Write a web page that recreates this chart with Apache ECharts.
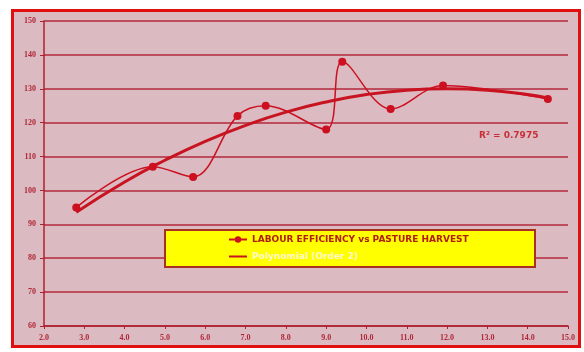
<!DOCTYPE html>
<html>
<head>
<meta charset="utf-8">
<script src="https://cdn.jsdelivr.net/npm/echarts@6/dist/echarts.min.js"></script>
<style>html,body{margin:0;padding:0;background:#fff;}#c{width:584px;height:352px;}</style>
</head>
<body>
<div id="c"></div>
<script>
// Observed data: labour efficiency vs pasture harvest
var harvestX = [2.8, 4.7, 5.7, 6.8, 7.5, 9.0, 9.4, 10.6, 11.9, 14.5];
var efficiency = [95, 107, 104, 122, 125, 118, 138, 124, 131, 127];
// Polynomial (order 2) trendline
var trendX = [2.8, 4, 5, 6, 7, 8, 9, 10, 11, 12, 13, 14, 14.5];
var trendY = [93.6, 102.5, 108.9, 114.5, 119.2, 123.1, 126.1, 128.3, 129.6, 130, 129.6, 128.3, 127.3];
var seriesNames = ['LABOUR EFFICIENCY vs PASTURE HARVEST', 'Polynomial (Order 2)'];
var r2Text = 'R\u00b2 = 0.7975';

var chart = echarts.init(document.getElementById('c'), null, {renderer: 'canvas'});
var lblStyle = {color: '#b02838', fontFamily: 'Liberation Serif', fontWeight: 'bold', fontSize: 8};
chart.setOption({
  animation: false,
  backgroundColor: '#ffffff',
  graphic: [
    {type: 'rect', z: -10, shape: {x: 12.5, y: 10.5, width: 567, height: 336},
     style: {fill: '#dbbac2', stroke: '#e01010', lineWidth: 3}},
    {type: 'rect', z: 3, shape: {x: 165, y: 230, width: 370, height: 37},
     style: {fill: '#ffff00', stroke: '#a83020', lineWidth: 2}},
    {type: 'text', z: 20, x: 479, y: 131,
     style: {text: r2Text, fill: '#c83038', font: 'bold 9px "DejaVu Sans"'}}
  ],
  grid: {left: 44, right: 16, top: 21, bottom: 26},
  xAxis: {
    type: 'value', min: 2, max: 15, interval: 1,
    axisLine: {lineStyle: {color: '#b02030', width: 1.5}},
    axisTick: {show: true, length: 3, lineStyle: {color: '#b02030'}},
    splitLine: {show: false},
    axisLabel: Object.assign({margin: 8, formatter: function(v){return v.toFixed(1);}}, lblStyle)
  },
  yAxis: {
    type: 'value', min: 60, max: 150, interval: 10,
    axisLine: {show: true, lineStyle: {color: '#b02030', width: 1.5}},
    axisTick: {show: true, length: 4, lineStyle: {color: '#b02030'}},
    splitLine: {lineStyle: {color: '#b3283a', width: 1.5}},
    axisLabel: Object.assign({margin: 8}, lblStyle)
  },
  legend: {
    z: 10,
    orient: 'vertical', left: 223, top: 230, itemGap: 8,
    itemWidth: 18, itemHeight: 8,
    textStyle: {fontFamily: 'DejaVu Sans', fontWeight: 'bold', fontSize: 9},
    data: [
      {name: seriesNames[0], textStyle: {color: '#b02010'}},
      {name: seriesNames[1], icon: 'path://M0,0 L18,0 L18,2 L0,2 Z', textStyle: {color: '#fff8d0'}}
    ]
  },
  series: [
    {
      name: seriesNames[1], type: 'line', smooth: true, showSymbol: false, symbol: 'none',
      data: trendX.map(function(x, i){return [x, trendY[i]];}),
      lineStyle: {color: '#c81420', width: 3}, itemStyle: {color: '#c81420'}, z: 2
    },
    {
      name: seriesNames[0], type: 'line', smooth: 0.35,
      data: harvestX.map(function(x, i){return [x, efficiency[i]];}),
      symbol: 'circle', symbolSize: 8,
      lineStyle: {color: '#cc1020', width: 1.5}, itemStyle: {color: '#cc1020'}, z: 3
    }
  ]
});
</script>
</body>
</html>
